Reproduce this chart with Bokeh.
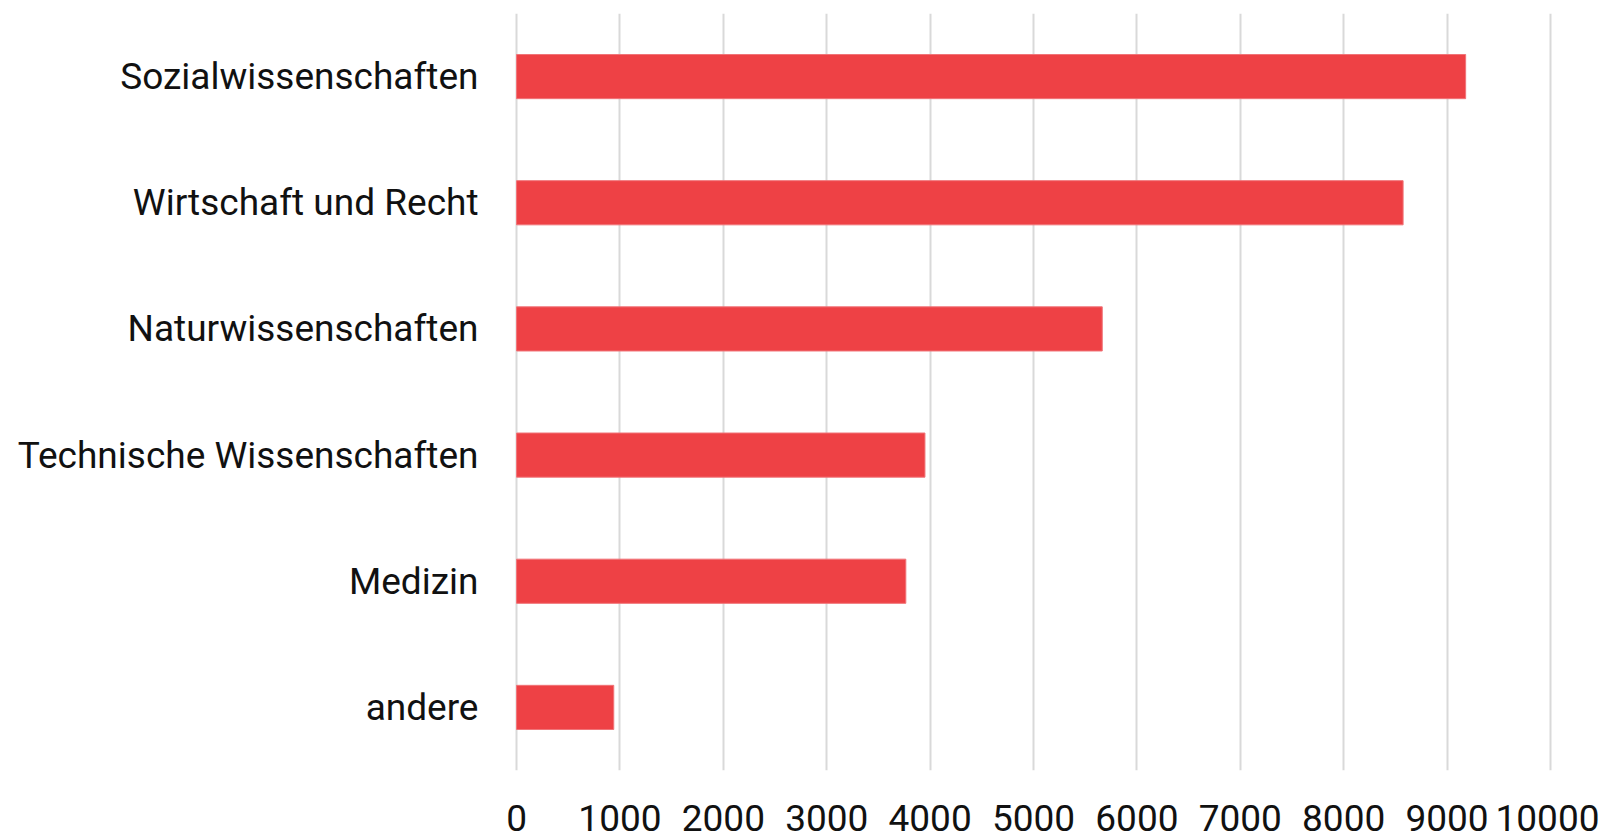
from bokeh.plotting import figure
from bokeh.models import FactorRange, Range1d, FixedTicker
from bokeh.embed import file_html
from bokeh.resources import INLINE

categories = ["Sozialwissenschaften", "Wirtschaft und Recht", "Naturwissenschaften",
              "Technische Wissenschaften", "Medizin", "andere"]
values = [9180, 8575, 5665, 3950, 3765, 940]
x_ticks = [0, 1000, 2000, 3000, 4000, 5000, 6000, 7000, 8000, 9000, 10000]

FONT = "Roboto"
BAR_COLOR = "#EE4145"

p = figure(
    width=1599, height=838,
    y_range=FactorRange(factors=list(reversed(categories)), range_padding=0),
    x_range=Range1d(-20, 10020),
    output_backend="svg", toolbar_location=None,
    min_border_left=514, min_border_right=47, min_border_top=13, min_border_bottom=68,
)

p.xgrid.grid_line_color = "#D9D9D9"
p.xgrid.grid_line_width = 2
p.xgrid.level = "underlay"

p.hbar(y=categories, right=values, left=0, height=0.35,
       fill_color=BAR_COLOR, line_color="#F07478", line_width=1)

p.outline_line_color = None
p.ygrid.grid_line_color = None
p.xaxis.ticker = FixedTicker(ticks=x_ticks)

for ax in (p.xaxis[0], p.yaxis[0]):
    ax.axis_line_color = None
    ax.major_tick_line_color = None
    ax.minor_tick_line_color = None
    ax.major_label_text_font = FONT
    ax.major_label_text_font_size = "37px"
    ax.major_label_text_color = "#111111"

p.xaxis.major_label_standoff = 28
p.yaxis.major_label_standoff = 30

open("out.html", "w").write(file_html(p, INLINE))
